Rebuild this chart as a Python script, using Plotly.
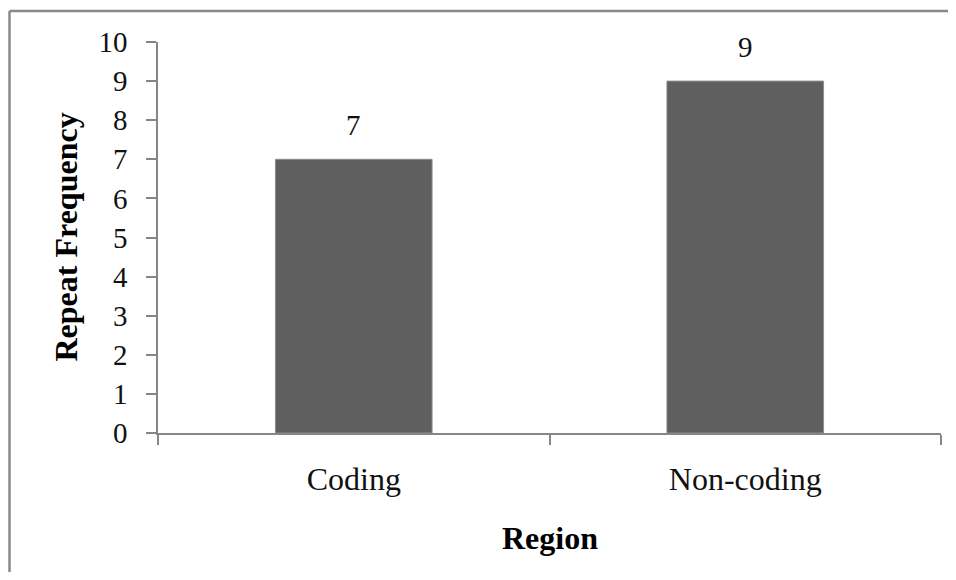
import plotly.graph_objects as go

categories = ["Coding", "Non-coding"]
values = [7, 9]
y_ticks = list(range(0, 11))

# the page body adds an 8px margin on every side; keep the figure inside the window
OFF = 8
W, H = 956 - 2 * OFF, 580 - 2 * OFF
L, T = 158 - OFF, 42 - OFF
pw, ph = 783, 391
R, B = W - L - pw, H - T - ph

def px_x(x):
    return (x - OFF - L) / pw

def px_y(y):
    return 1 - (y - OFF - T) / ph

FONT = "Liberation Serif, Times New Roman, serif"
AX = "#868686"
BORDER = "#8a8a8a"

fig = go.Figure()
fig.add_trace(go.Bar(
    x=categories, y=values,
    marker=dict(color="#5f5f5f", line=dict(color="#8c8c8c", width=1)),
    hoverinfo="x+y",
))

annotations = [
    dict(text=str(v), x=c, y=v, xref="x", yref="y",
         xanchor="center", yanchor="bottom", yshift=16, showarrow=False,
         font=dict(family=FONT, size=29, color="#111111"))
    for c, v in zip(categories, values)
]
annotations += [
    dict(text="<b>Repeat Frequency</b>", xref="paper", yref="paper",
         x=px_x(65), y=0.5, xanchor="center", yanchor="middle",
         textangle=-90, showarrow=False,
         font=dict(family=FONT, size=32, color="#000000")),
    dict(text="<b>Region</b>", xref="paper", yref="paper",
         x=px_x(550), y=px_y(538), xanchor="center", yanchor="middle",
         showarrow=False,
         font=dict(family=FONT, size=32, color="#000000")),
]

fig.update_layout(
    width=W, height=H,
    margin=dict(l=L, r=R, t=T, b=B),
    paper_bgcolor="white", plot_bgcolor="white",
    bargap=0.6, showlegend=False,
    font=dict(family=FONT, color="#111111"),
    xaxis=dict(
        type="category", range=[-0.5, 1.5],
        showline=True, linecolor=AX, linewidth=1.5,
        ticks="outside", tickson="boundaries", ticklen=10, tickcolor=AX, tickwidth=1.5,
        tickfont=dict(family=FONT, size=32, color="#111111"),
        ticklabelstandoff=17,
        showgrid=False, zeroline=False,
    ),
    yaxis=dict(
        range=[0, 10], tickvals=y_ticks, ticktext=[str(v) for v in y_ticks],
        showline=True, linecolor=AX, linewidth=1.5,
        ticks="outside", ticklen=10, tickcolor=AX, tickwidth=1.5,
        tickfont=dict(family=FONT, size=29, color="#111111"),
        ticklabelstandoff=13,
        showgrid=False, zeroline=False,
    ),
    annotations=annotations,
    shapes=[
        dict(type="line", xref="paper", yref="paper",
             x0=px_x(9.5), x1=px_x(956), y0=px_y(11), y1=px_y(11),
             line=dict(color=BORDER, width=2.5), layer="below"),
        dict(type="line", xref="paper", yref="paper",
             x0=px_x(9.5), x1=px_x(9.5), y0=px_y(11), y1=px_y(580),
             line=dict(color=BORDER, width=2.5), layer="below"),
    ],
)

fig.write_html("out.html", config={"displayModeBar": False})
